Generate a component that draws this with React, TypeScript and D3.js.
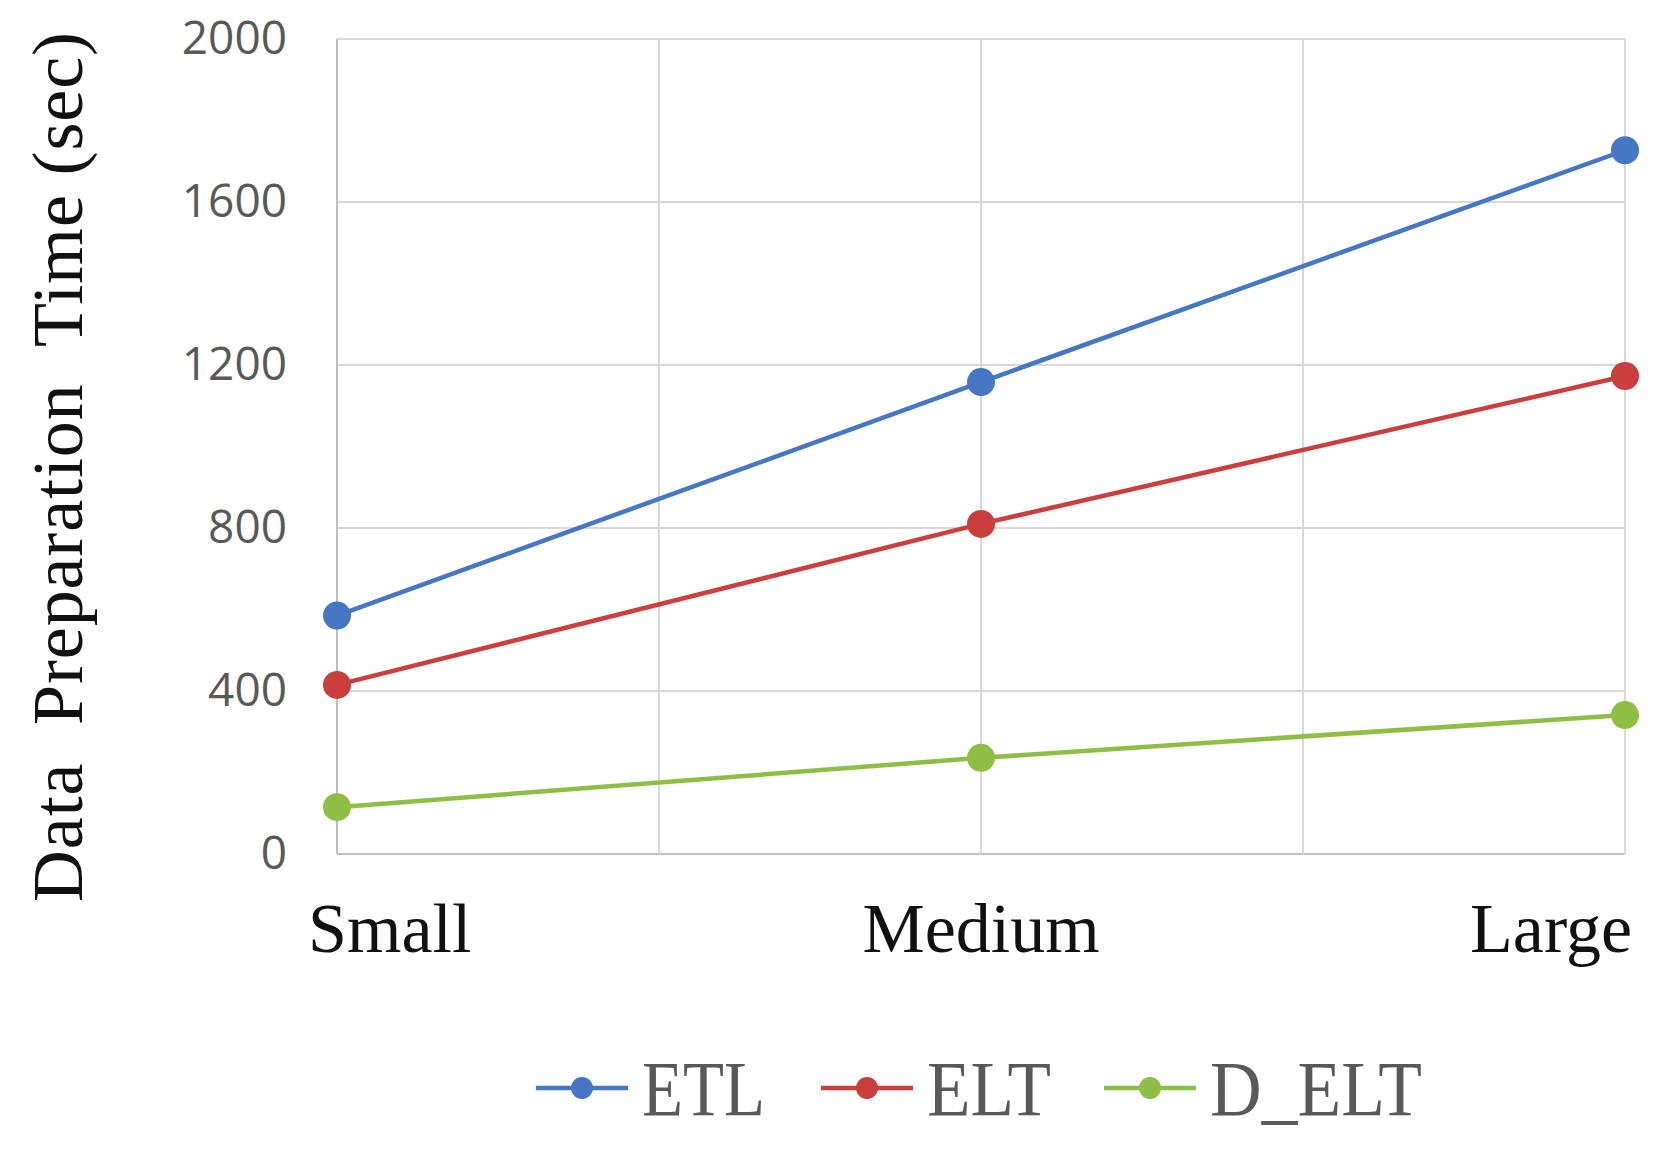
import * as d3 from "d3";
import React from "react";

const W = 1665;
const H = 1152;

// chart data
const categories = ["Small", "Medium", "Large"];
const seriesNames = ["ETL", "ELT", "D_ELT"];
const etl = [585, 1158, 1727];
const elt = [415, 810, 1173];
const dElt = [115, 236, 341];
const yTicks = [0, 400, 800, 1200, 1600, 2000];
const colors = ["#4677c6", "#cc3e3e", "#8fbe45"];

const plot = { left: 337, right: 1625, top: 39, bottom: 854 };

export default function App() {
    const x = d3
        .scaleLinear()
        .domain([0, categories.length - 1])
        .range([plot.left, plot.right]);
    const y = d3
        .scaleLinear()
        .domain([0, 2000])
        .range([plot.bottom, plot.top]);

    const line = d3
        .line<number>()
        .x((_, i) => x(i))
        .y((v) => y(v));

    const series = [etl, elt, dElt];
    // vertical grid every half category
    const xGrid = d3.range(0, categories.length - 0.5, 0.5);

    const legendX = [536, 821, 1104];
    const legendTextW = [123, 124, 212];

    return (
        <div style={{ position: "absolute", left: 0, top: 0 }}>
            <svg width={W} height={H} viewBox={`0 0 ${W} ${H}`} style={{ display: "block", background: "#fff" }}>
                {/* horizontal grid */}
                {yTicks.map((t) => (
                    <line
                        key={"h" + t}
                        x1={plot.left}
                        x2={plot.right}
                        y1={y(t)}
                        y2={y(t)}
                        stroke={t === 0 ? "#bfbfbf" : "#d9d9d9"}
                        strokeWidth={2}
                    />
                ))}
                {/* vertical grid */}
                {xGrid.map((g) => (
                    <line
                        key={"v" + g}
                        x1={x(g)}
                        x2={x(g)}
                        y1={plot.top}
                        y2={plot.bottom}
                        stroke={g === 0 ? "#bfbfbf" : "#d9d9d9"}
                        strokeWidth={2}
                    />
                ))}

                {/* y tick labels */}
                {yTicks.map((t) => (
                    <text
                        key={"yl" + t}
                        x={287}
                        y={y(t) + 3}
                        textAnchor="end"
                        dominantBaseline="middle"
                        fontFamily="'Open Sans', sans-serif"
                        fontSize={46}
                        fill="#595959"
                    >
                        {t}
                    </text>
                ))}

                {/* x category labels */}
                {categories.map((c, i) => {
                    const last = i === categories.length - 1;
                    const anchor = i === 0 ? "start" : last ? "end" : "middle";
                    const dx = i === 0 ? -29 : last ? 7 : 0;
                    return (
                        <text
                            key={c}
                            x={x(i) + dx}
                            y={952}
                            textAnchor={anchor}
                            fontFamily="'Liberation Serif', serif"
                            fontSize={70}
                            fill="#111"
                        >
                            {c}
                        </text>
                    );
                })}

                {/* y axis title */}
                <text
                    transform={`translate(82, 467) rotate(-90)`}
                    textAnchor="middle"
                    fontFamily="'Liberation Serif', serif"
                    fontSize={72}
                    fill="#111"
                    textLength={870}
                    lengthAdjust="spacing"
                    style={{ whiteSpace: "pre" }}
                >
                    {"Data  Preparation  Time (sec)"}
                </text>

                {/* lines and markers */}
                {series.map((s, k) => (
                    <g key={seriesNames[k]}>
                        <path d={line(s) ?? ""} fill="none" stroke={colors[k]} strokeWidth={4.5} />
                        {s.map((v, i) => (
                            <circle key={i} cx={x(i)} cy={y(v)} r={14} fill={colors[k]} />
                        ))}
                    </g>
                ))}

                {/* legend */}
                {seriesNames.map((n, k) => (
                    <g key={"lg" + n}>
                        <line
                            x1={legendX[k]}
                            x2={legendX[k] + 92}
                            y1={1088}
                            y2={1088}
                            stroke={colors[k]}
                            strokeWidth={4.5}
                        />
                        <circle cx={legendX[k] + 46} cy={1088} r={11} fill={colors[k]} />
                        <text
                            x={legendX[k] + 106}
                            y={1115}
                            fontFamily="'Liberation Serif', serif"
                            fontSize={78}
                            fill="#595959"
                            textLength={legendTextW[k]}
                            lengthAdjust="spacingAndGlyphs"
                        >
                            {n}
                        </text>
                    </g>
                ))}
            </svg>
        </div>
    );
}
